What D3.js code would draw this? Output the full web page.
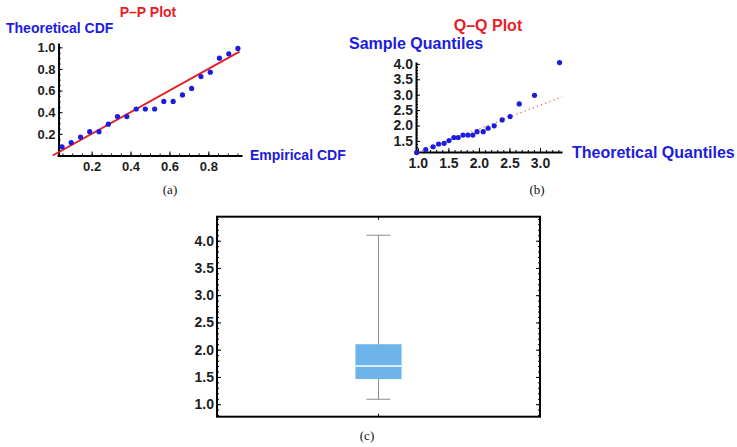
<!DOCTYPE html>
<html>
<head>
	<meta charset="utf-8">
	<title>P-P, Q-Q and box plot</title>
	<script src="https://d3js.org/d3.v7.min.js"></script>
	<style>
		body { margin: 0; background: #fff; }
		.tick text { font-family: "Liberation Sans", Arial, sans-serif; font-weight: bold; fill: #1e1e1e; }
		.lbl { font-family: "Liberation Sans", Arial, sans-serif; font-weight: bold; }
		.cap { font-family: "Liberation Serif", "DejaVu Serif", serif; font-size: 13px; fill: #111; }
	</style>
</head>
<body>
	<div id="chart"></div>
	<script>
		// P-P plot data
		var ppEmpirical = [0.048, 0.095, 0.143, 0.190, 0.238, 0.286, 0.333, 0.381, 0.429, 0.476,
			0.524, 0.571, 0.619, 0.667, 0.714, 0.762, 0.810, 0.857, 0.905, 0.952];
		var ppTheoretical = [0.08, 0.12, 0.17, 0.22, 0.22, 0.29, 0.36, 0.36, 0.43, 0.43,
			0.43, 0.50, 0.50, 0.56, 0.62, 0.73, 0.77, 0.90, 0.94, 0.99];
		var ppLine = [[0, 0], [0.96, 0.96]];
		var ppXTicks = [0.2, 0.4, 0.6, 0.8];
		var ppYTicks = [0.2, 0.4, 0.6, 0.8, 1.0];

		// Q-Q plot data
		var qqTheoretical = [0.98, 1.13, 1.25, 1.34, 1.43, 1.51, 1.59, 1.66, 1.74, 1.82,
			1.90, 1.97, 2.07, 2.15, 2.25, 2.38, 2.51, 2.66, 2.91, 3.32];
		var qqSample = [1.12, 1.22, 1.31, 1.40, 1.42, 1.51, 1.61, 1.61, 1.69, 1.69,
			1.69, 1.80, 1.80, 1.91, 1.99, 2.18, 2.29, 2.70, 2.98, 4.04];
		var qqLine = [[1.0, 1.13], [3.36, 2.93]];
		var qqXTicks = [1.0, 1.5, 2.0, 2.5, 3.0];
		var qqYTicks = [1.5, 2.0, 2.5, 3.0, 3.5, 4.0];

		// Box plot data: min, q1, median, q3, max
		var boxCategories = ["sample"];
		var boxValues = [1.09, 1.46, 1.70, 2.10, 4.10];
		var boxYTicks = [1.0, 1.5, 2.0, 2.5, 3.0, 3.5, 4.0];

		var blue = "#1c1cdc", red = "#e61e26";
		var fmt = d3.format(".1f");

		var svg = d3.select("#chart")
			.append("svg")
			.attr("width", 737)
			.attr("height", 447);

		// ---------- (a) P-P plot ----------
		var ax = d3.scaleLinear().domain([0.022, 0.973]).range([57, 242]);
		var ay = d3.scaleLinear().domain([0, 1.04]).range([155.5, 43]);
		var ga = svg.append("g");

		ga.append("g").attr("transform", "translate(0," + ay(0) + ")")
			.call(d3.axisBottom(ax).tickValues(ax.ticks(20).filter(d => d > 0.03)).tickSizeInner(-2).tickSizeOuter(0).tickFormat(""))
			.call(g => g.select(".domain").attr("stroke-width", 2));
		ga.append("g").attr("transform", "translate(0," + ay(0) + ")")
			.call(d3.axisBottom(ax).tickValues(ppXTicks).tickSizeInner(-4).tickSizeOuter(0).tickPadding(6).tickFormat(fmt))
			.call(g => g.select(".domain").remove())
			.call(g => g.selectAll("text").attr("font-size", 13));
		ga.append("g").attr("transform", "translate(" + ax(0.03) + ",0)")
			.call(d3.axisLeft(ay).tickValues(ay.ticks(20).filter(d => d > 0.01)).tickSizeInner(-2).tickSizeOuter(0).tickFormat(""))
			.call(g => g.select(".domain").attr("stroke-width", 2));
		ga.append("g").attr("transform", "translate(" + ax(0.03) + ",0)")
			.call(d3.axisLeft(ay).tickValues(ppYTicks).tickSizeInner(-4).tickSizeOuter(0).tickPadding(3).tickFormat(fmt))
			.call(g => g.select(".domain").remove())
			.call(g => g.selectAll("text").attr("font-size", 13));

		ga.append("path")
			.datum(ppLine)
			.attr("fill", "none")
			.attr("stroke", red)
			.attr("stroke-width", 2)
			.attr("d", d3.line().x(d => ax(d[0])).y(d => ay(d[1])));

		ga.selectAll(".ppdot")
			.data(d3.zip(ppEmpirical, ppTheoretical))
			.enter()
			.append("circle")
			.attr("cx", d => ax(d[0]))
			.attr("cy", d => ay(d[1]))
			.attr("r", 2.6)
			.attr("fill", blue);

		ga.append("text").attr("class", "lbl").attr("x", 148).attr("y", 17)
			.attr("text-anchor", "middle").attr("font-size", 14).attr("fill", red).text("P–P Plot");
		ga.append("text").attr("class", "lbl").attr("x", 6).attr("y", 33)
			.attr("font-size", 14).attr("fill", blue).text("Theoretical CDF");
		ga.append("text").attr("class", "lbl").attr("x", 250).attr("y", 160)
			.attr("font-size", 14).attr("fill", blue).text("Empirical CDF");
		ga.append("text").attr("class", "cap").attr("x", 170).attr("y", 194)
			.attr("text-anchor", "middle").text("(a)");

		// ---------- (b) Q-Q plot ----------
		var bx = d3.scaleLinear().domain([0.97, 3.36]).range([416, 562]);
		var by = d3.scaleLinear().domain([1.14, 4.06]).range([152, 62]);
		var gb = svg.append("g");

		gb.append("g").attr("transform", "translate(0," + by.range()[0] + ")")
			.call(d3.axisBottom(bx).tickValues(bx.ticks(25)).tickSizeInner(-2).tickSizeOuter(0).tickFormat(""))
			.call(g => g.select(".domain").attr("stroke-width", 2));
		gb.append("g").attr("transform", "translate(0," + by.range()[0] + ")")
			.call(d3.axisBottom(bx).tickValues(qqXTicks).tickSizeInner(-4).tickSizeOuter(0).tickPadding(6).tickFormat(fmt))
			.call(g => g.select(".domain").remove())
			.call(g => g.selectAll("text").attr("font-size", 14));
		gb.append("g").attr("transform", "translate(" + bx.range()[0] + ",0)")
			.call(d3.axisLeft(by).tickValues(by.ticks(30)).tickSizeInner(-2).tickSizeOuter(0).tickFormat(""))
			.call(g => g.select(".domain").attr("stroke-width", 2));
		gb.append("g").attr("transform", "translate(" + bx.range()[0] + ",0)")
			.call(d3.axisLeft(by).tickValues(qqYTicks).tickSizeInner(-4).tickSizeOuter(0).tickPadding(3).tickFormat(fmt))
			.call(g => g.select(".domain").remove())
			.call(g => g.selectAll("text").attr("font-size", 14));

		gb.append("path")
			.datum(qqLine)
			.attr("fill", "none")
			.attr("stroke", "#e26a6a")
			.attr("stroke-width", 1.3)
			.attr("stroke-dasharray", "1.2,3.2")
			.attr("d", d3.line().x(d => bx(d[0])).y(d => by(d[1])));

		gb.selectAll(".qqdot")
			.data(d3.zip(qqTheoretical, qqSample))
			.enter()
			.append("circle")
			.attr("cx", d => bx(d[0]))
			.attr("cy", d => by(d[1]))
			.attr("r", 2.6)
			.attr("fill", blue);

		gb.append("text").attr("class", "lbl").attr("x", 488).attr("y", 31)
			.attr("text-anchor", "middle").attr("font-size", 16).attr("fill", red).text("Q–Q Plot");
		gb.append("text").attr("class", "lbl").attr("x", 349).attr("y", 49)
			.attr("font-size", 16).attr("fill", blue).text("Sample Quantiles");
		gb.append("text").attr("class", "lbl").attr("x", 572).attr("y", 158)
			.attr("font-size", 16).attr("fill", blue).text("Theoretical Quantiles");
		gb.append("text").attr("class", "cap").attr("x", 537).attr("y", 194)
			.attr("text-anchor", "middle").text("(b)");

		// ---------- (c) box plot ----------
		var cx = d3.scaleBand().domain(boxCategories).range([217, 540]).paddingInner(0).paddingOuter(3);
		var cy = d3.scaleLinear().domain([0.77, 4.44]).range([416.7, 216.7]);
		var gc = svg.append("g");
		var x0 = cx.range()[0], x1 = cx.range()[1];

		gc.append("rect")
			.attr("x", x0).attr("y", cy.range()[1])
			.attr("width", x1 - x0).attr("height", cy.range()[0] - cy.range()[1])
			.attr("fill", "none").attr("stroke", "#000").attr("stroke-width", 2);

		[[d3.axisLeft, x0, -1], [d3.axisRight, x1, 1]].forEach(function (s) {
			gc.append("g").attr("transform", "translate(" + s[1] + ",0)")
				.call(s[0](cy).tickValues(cy.ticks(35)).tickSizeInner(-2).tickSizeOuter(0).tickFormat(""))
				.call(g => g.select(".domain").remove());
			gc.append("g").attr("transform", "translate(" + s[1] + ",0)")
				.call(s[0](cy).tickValues(boxYTicks).tickSizeInner(-4).tickSizeOuter(0).tickPadding(3)
					.tickFormat(s[2] < 0 ? fmt : ""))
				.call(g => g.select(".domain").remove())
				.call(g => g.selectAll("text").attr("font-size", 14));
		});
		gc.append("g").attr("transform", "translate(0," + cy.range()[0] + ")")
			.call(d3.axisBottom(cx).tickSizeInner(-3).tickSizeOuter(0).tickFormat(""))
			.call(g => g.select(".domain").remove());
		gc.append("g").attr("transform", "translate(0," + cy.range()[1] + ")")
			.call(d3.axisTop(cx).tickSizeInner(-3).tickSizeOuter(0).tickFormat(""))
			.call(g => g.select(".domain").remove());

		var bw = cx.bandwidth();
		var mid = cx(boxCategories[0]) + bw / 2;
		var whisk = gc.append("g").attr("stroke", "#8c8c8c").attr("stroke-width", 1);
		whisk.append("line").attr("x1", mid).attr("x2", mid).attr("y1", cy(boxValues[0])).attr("y2", cy(boxValues[4]));
		[boxValues[0], boxValues[4]].forEach(function (v) {
			whisk.append("line").attr("x1", mid - bw * 0.26).attr("x2", mid + bw * 0.26)
				.attr("y1", cy(v)).attr("y2", cy(v));
		});
		gc.append("rect")
			.attr("x", cx(boxCategories[0])).attr("width", bw)
			.attr("y", cy(boxValues[3])).attr("height", cy(boxValues[1]) - cy(boxValues[3]))
			.attr("fill", "#6cb4ea");
		gc.append("line")
			.attr("x1", cx(boxCategories[0])).attr("x2", cx(boxCategories[0]) + bw)
			.attr("y1", cy(boxValues[2])).attr("y2", cy(boxValues[2]))
			.attr("stroke", "#fff").attr("stroke-width", 1.5);

		gc.append("text").attr("class", "cap").attr("x", 367).attr("y", 440)
			.attr("text-anchor", "middle").text("(c)");
	</script>
</body>
</html>
